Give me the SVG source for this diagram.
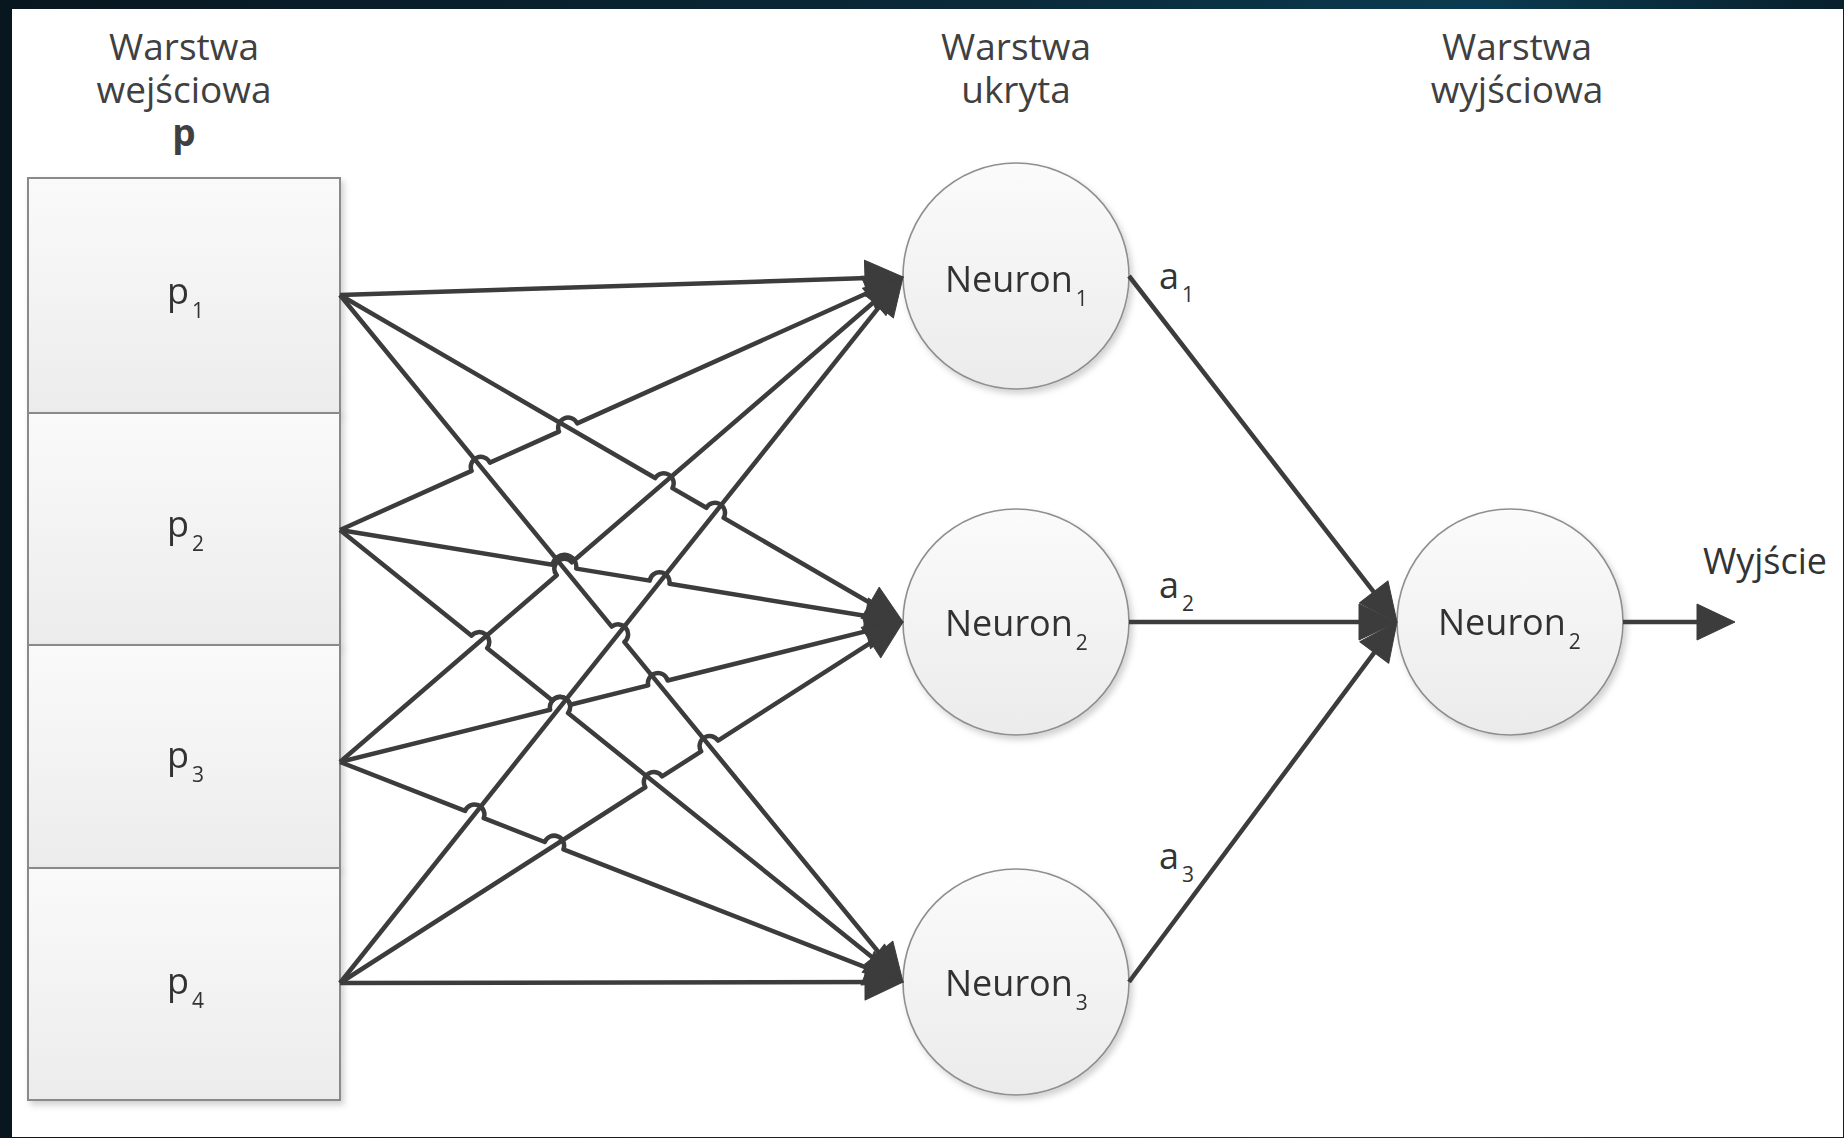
<svg xmlns="http://www.w3.org/2000/svg" width="1844" height="1138" viewBox="0 0 1844 1138">
  <defs>
    <linearGradient id="bg" x1="0" y1="0" x2="1" y2="0">
      <stop offset="0" stop-color="#08161f"/>
      <stop offset="0.55" stop-color="#0a2a3a"/>
      <stop offset="0.8" stop-color="#0b3a50"/>
      <stop offset="1" stop-color="#08202c"/>
    </linearGradient>
    <linearGradient id="boxFill" x1="0" y1="0" x2="0" y2="1">
      <stop offset="0" stop-color="#fafafa"/>
      <stop offset="1" stop-color="#ececec"/>
    </linearGradient>
    <linearGradient id="circleFill" x1="0" y1="0" x2="0" y2="1">
      <stop offset="0" stop-color="#fbfbfb"/>
      <stop offset="1" stop-color="#ebebeb"/>
    </linearGradient>
    <filter id="shadow" x="-10%" y="-10%" width="130%" height="130%">
      <feDropShadow dx="3" dy="4" stdDeviation="3" flood-color="#000" flood-opacity="0.18"/>
    </filter>
    <marker id="arrow" markerUnits="userSpaceOnUse" markerWidth="38" markerHeight="36" refX="18" refY="18" orient="auto" overflow="visible">
      <path d="M0 0 L38 18 L0 36 z" fill="#3c3c3c" stroke="#3c3c3c" stroke-width="1" stroke-linejoin="round"/>
    </marker>
    <style>
      .box { fill: url(#boxFill); stroke: #8a8a8a; stroke-width: 2; }
      .neuron { fill: url(#circleFill); stroke: #8f8f8f; stroke-width: 1.6; }
      .head { font-family: "Open Sans", "Noto Sans", "Liberation Sans", sans-serif; font-size: 37px; fill: #404040; text-anchor: middle; }
      .lbl { font-family: "Open Sans", "Noto Sans", "Liberation Sans", sans-serif; font-size: 36px; fill: #333333; }
      .sub { font-size: 21px; }
      .wire { fill: none; stroke: #3c3c3c; stroke-width: 4.5; stroke-linejoin: round; marker-end: url(#arrow); }
    </style>
  </defs>

  <!-- frame -->
  <rect x="0" y="0" width="1844" height="1138" fill="url(#bg)"/>
  <rect x="12" y="9" width="1831" height="1128" fill="#ffffff"/>

  <!-- column headings -->
  <g id="heading-input">
    <text class="head" x="184" y="60">Warstwa</text>
    <text class="head" x="184" y="103">wejściowa</text>
    <text class="head" x="184" y="146" font-weight="bold">p</text>
  </g>
  <g id="heading-hidden">
    <text class="head" x="1016" y="60">Warstwa</text>
    <text class="head" x="1016" y="103">ukryta</text>
  </g>
  <g id="heading-output">
    <text class="head" x="1517" y="60">Warstwa</text>
    <text class="head" x="1517" y="103">wyjściowa</text>
  </g>

  <!-- input cells -->
  <g id="input-p1" filter="url(#shadow)">
    <rect class="box" x="28" y="178" width="312" height="235"/>
    <text class="lbl" x="167" y="304">p<tspan class="sub" dx="3" dy="14">1</tspan></text>
  </g>
  <g id="input-p2" filter="url(#shadow)">
    <rect class="box" x="28" y="413" width="312" height="232"/>
    <text class="lbl" x="167" y="537">p<tspan class="sub" dx="3" dy="14">2</tspan></text>
  </g>
  <g id="input-p3" filter="url(#shadow)">
    <rect class="box" x="28" y="645" width="312" height="223"/>
    <text class="lbl" x="167" y="768">p<tspan class="sub" dx="3" dy="14">3</tspan></text>
  </g>
  <g id="input-p4" filter="url(#shadow)">
    <rect class="box" x="28" y="868" width="312" height="232"/>
    <text class="lbl" x="167" y="994">p<tspan class="sub" dx="3" dy="14">4</tspan></text>
  </g>

  <!-- hidden neurons -->
  <g id="hidden-neuron-1" filter="url(#shadow)">
    <circle class="neuron" cx="1016" cy="276" r="113"/>
    <text class="lbl" x="945" y="292">Neuron<tspan class="sub" dx="3" dy="14">1</tspan></text>
  </g>
  <g id="hidden-neuron-2" filter="url(#shadow)">
    <circle class="neuron" cx="1016" cy="622" r="113"/>
    <text class="lbl" x="945" y="636">Neuron<tspan class="sub" dx="3" dy="14">2</tspan></text>
  </g>
  <g id="hidden-neuron-3" filter="url(#shadow)">
    <circle class="neuron" cx="1016" cy="982" r="113"/>
    <text class="lbl" x="945" y="996">Neuron<tspan class="sub" dx="3" dy="14">3</tspan></text>
  </g>

  <!-- output neuron -->
  <g id="output-neuron" filter="url(#shadow)">
    <circle class="neuron" cx="1510" cy="622" r="113"/>
    <text class="lbl" x="1438" y="635">Neuron<tspan class="sub" dx="3" dy="14">2</tspan></text>
  </g>

  <!-- connectors; flatter lines hop over steeper ones at crossings -->
  <g id="connectors">
    <path class="wire" d="M340 295 L883 277.6"/>
    <path class="wire" d="M340 295 L655.15 478.05 A10 10 0 0 1 672.44 488.09 L706.35 507.78 A10 10 0 0 1 723.65 517.83 L885.7 611.96"/>
    <path class="wire" d="M340 295 L611.76 626.62 A10 10 0 0 1 624.44 642.09 L890.32 966.53"/>

    <path class="wire" d="M340 530 L471.63 470.85 A10 10 0 0 1 489.87 462.65 L558.98 431.6 A10 10 0 0 1 577.22 423.4 L884.76 285.2"/>
    <path class="wire" d="M340 530 L552.53 564.73 A12.03 12.03 0 0 1 576.27 568.61 L649.73 580.61 A10 10 0 0 1 669.47 583.84 L883.26 618.77"/>
    <path class="wire" d="M340 530 L471.61 635.66 A10 10 0 0 1 487.2 648.18 L552.4 700.52 A10 10 0 0 1 568 713.05 L887.41 969.48"/>

    <path class="wire" d="M340 762 L556.72 575.3 A10 10 0 0 1 571.88 562.25 L887.85 290.05"/>
    <path class="wire" d="M340 762 L550.1 709.75 A10.41 10.41 0 0 1 570.3 704.73 L648.19 685.36 A10 10 0 0 1 667.6 680.54 L883.59 626.82"/>
    <path class="wire" d="M340 762 L465.09 810.88 A10 10 0 0 1 483.72 818.16 L544.79 842.02 A10 10 0 0 1 563.42 849.3 L884.37 974.72"/>

    <path class="wire" d="M340 983 L890.53 292.63"/>
    <path class="wire" d="M340 983 L645.28 787.25 A10 10 0 0 1 662.11 776.46 L701.18 751.41 A10 10 0 0 1 718.02 740.61 L886.16 632.8"/>
    <path class="wire" d="M340 983 L883 982"/>

    <path class="wire" d="M1129 276 L1384.75 606.19"/>
    <path class="wire" d="M1129 622 L1377 622"/>
    <path class="wire" d="M1129 982 L1385.06 638.04"/>
    <path class="wire" d="M1623 622 L1715 622"/>
  </g>

  <!-- signal labels -->
  <g id="signal-labels">
    <text class="lbl" x="1159" y="289">a<tspan class="sub" dx="3" dy="13">1</tspan></text>
    <text class="lbl" x="1159" y="598">a<tspan class="sub" dx="3" dy="13">2</tspan></text>
    <text class="lbl" x="1159" y="869">a<tspan class="sub" dx="3" dy="13">3</tspan></text>
    <text class="lbl" x="1703" y="574">Wyjście</text>
  </g>
</svg>
